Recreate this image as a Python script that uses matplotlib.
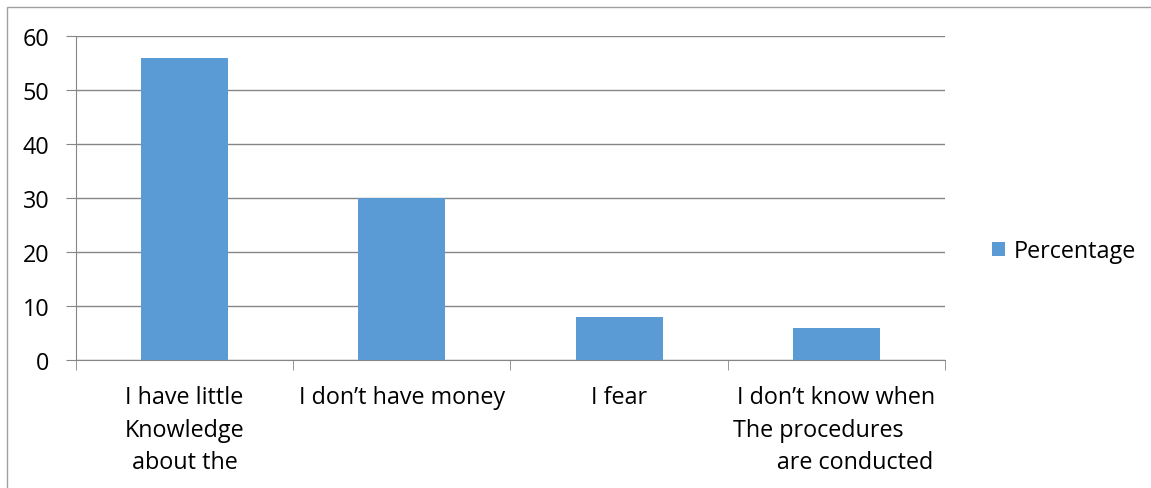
import numpy as np
import matplotlib.pyplot as plt
from matplotlib.patches import Rectangle

plt.rcParams['font.family'] = ['Open Sans', 'DejaVu Sans']

categories = ["I have little\nKnowledge\nabout the",
              "I don\u2019t have money",
              "I fear",
              "I don\u2019t know when\nThe procedures      \n      are conducted"]
percentage = [56, 30, 8, 6]
yticks = [0, 10, 20, 30, 40, 50, 60]

fs = 16.8

fig = plt.figure(figsize=(11.51, 4.89), dpi=100)
ax = fig.add_axes([0.066, 0.262, 0.755, 0.662])

x = np.arange(len(categories))
ax.bar(x, percentage, width=0.4, color='#5B9BD5', label='Percentage', zorder=3)

ax.set_xlim(-0.5, len(categories) - 0.5)
ax.set_ylim(0, 60)
ax.set_yticks(yticks)
ax.yaxis.grid(True, color='#868686', linewidth=1, zorder=0)
ax.tick_params(axis='y', length=7, color='#868686', labelsize=fs, pad=12)

# category labels centred, ticks on category boundaries
ax.set_xticks(x)
ax.set_xticklabels(categories, fontsize=fs, linespacing=1.48)
ax.tick_params(axis='x', length=0, pad=18)
ax.set_xticks(np.arange(-0.5, len(categories)), minor=True)
ax.tick_params(axis='x', which='minor', length=7, color='#868686')

for s in ['top', 'right']:
    ax.spines[s].set_visible(False)
for s in ['left', 'bottom']:
    ax.spines[s].set_color('#868686')

ax.legend(loc='center left', bbox_to_anchor=(1.03, 0.336), frameon=False,
          fontsize=fs, handlelength=0.55, handleheight=0.55, handletextpad=0.4)

# outer chart border
fig.patches.append(Rectangle((0.006, -0.1), 1.1, 1.083, transform=fig.transFigure,
                             fill=False, edgecolor='#A0A0A0', linewidth=1))

fig.savefig('out.png', dpi=100)
